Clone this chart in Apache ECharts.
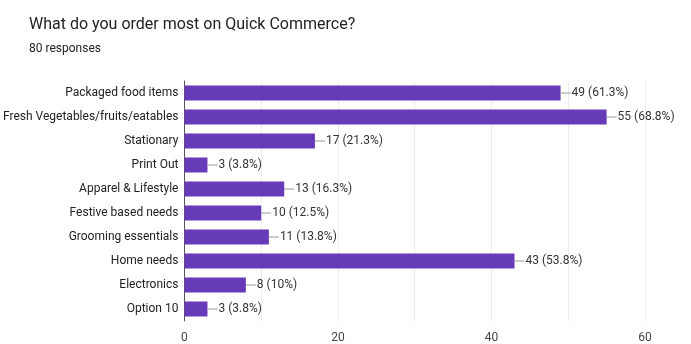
<!DOCTYPE html>
<html>
<head>
<meta charset="utf-8">
<script src="https://cdn.jsdelivr.net/npm/echarts@6/dist/echarts.min.js"></script>
<style>
  html, body { margin: 0; padding: 0; background: #fff; }
  #chart { width: 691px; height: 344px; }
</style>
</head>
<body>
<div id="chart"></div>
<script>
// Survey answers, top to bottom
const categories = [
  'Packaged food items',
  'Fresh Vegetables/fruits/eatables',
  'Stationary',
  'Print Out',
  'Apparel & Lifestyle',
  'Festive based needs',
  'Grooming essentials',
  'Home needs',
  'Electronics',
  'Option 10'
];
const counts = [49, 55, 17, 3, 13, 10, 11, 43, 8, 3];
const totalResponses = 80;
const xTicks = [0, 20, 40, 60];

function pct(v) {
  return Math.round(v * 1000 / totalResponses) / 10;
}

const chart = echarts.init(document.getElementById('chart'));
chart.setOption({
  animation: false,
  textStyle: { fontFamily: 'Roboto, Arial, sans-serif' },
  title: {
    text: 'What do you order most on Quick Commerce?',
    subtext: totalResponses + ' responses',
    left: 24,
    top: 12,
    itemGap: 10,
    textStyle: { fontSize: 16, fontWeight: 'normal', color: '#222' },
    subtextStyle: { fontSize: 12, color: '#222' }
  },
  grid: { left: 182, right: 46, top: 81, bottom: 20, containLabel: false },
  xAxis: {
    type: 'value',
    min: 0,
    max: 60,
    interval: 10,
    axisLine: { show: false },
    axisTick: { show: false },
    splitLine: { lineStyle: { color: '#ececec' } },
    axisLabel: {
      color: '#444',
      fontSize: 12,
      margin: 11,
      formatter: v => (xTicks.indexOf(v) >= 0 ? String(v) : '')
    }
  },
  yAxis: {
    type: 'category',
    data: categories,
    inverse: true,
    axisLine: { show: true, lineStyle: { color: '#555', width: 1 } },
    axisTick: { show: false },
    axisLabel: { color: '#222', fontSize: 12, margin: 6 }
  },
  series: [{
    type: 'bar',
    data: counts,
    barWidth: 15,
    itemStyle: { color: '#673ab7' },
    label: {
      show: true,
      position: 'right',
      distance: 0,
      color: '#222',
      fontSize: 12,
      formatter: p => '{l|}{t|' + p.value + ' (' + pct(p.value) + '%)}',
      rich: {
        l: { width: 10, height: 1, backgroundColor: '#999' },
        t: { fontSize: 12, color: '#333', padding: [0, 0, 0, 1] }
      }
    }
  }]
});
</script>
</body>
</html>
